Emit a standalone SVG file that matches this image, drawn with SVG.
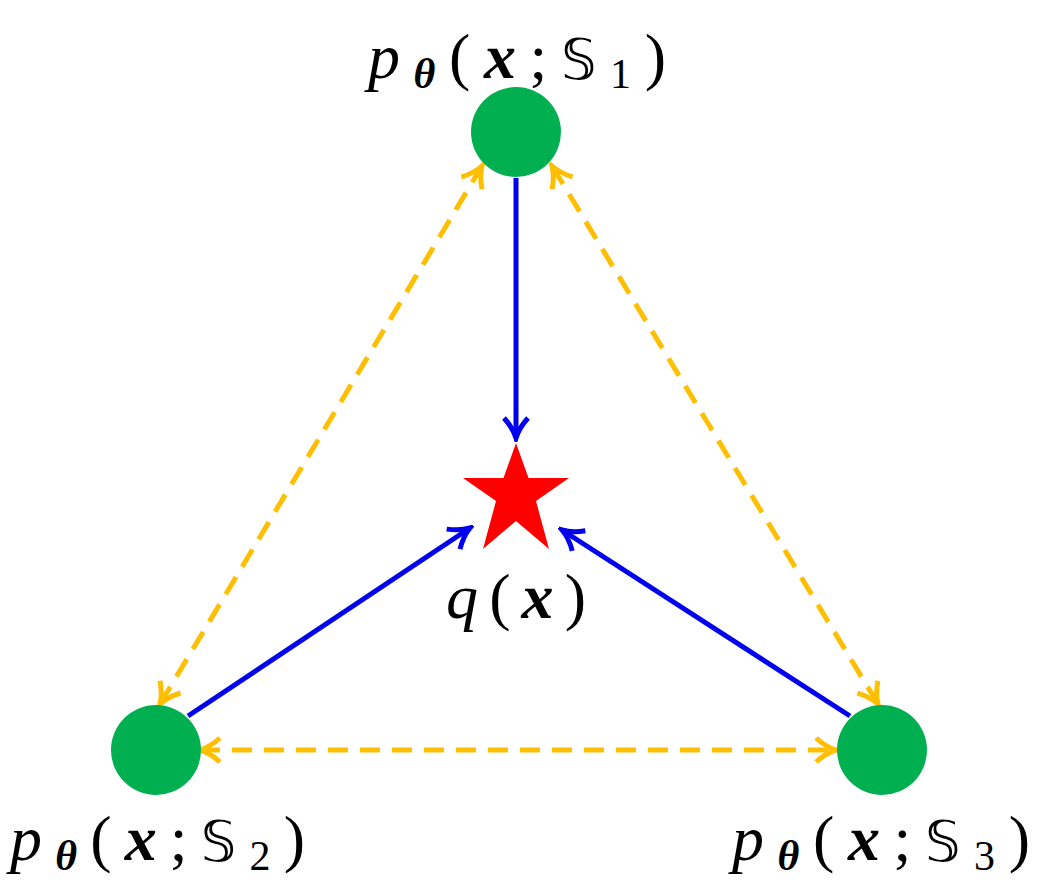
<svg xmlns="http://www.w3.org/2000/svg" width="1040" height="889" viewBox="0 0 1040 889">
<style>
.t{font-family:"Liberation Serif","DejaVu Serif",serif;font-size:64px;fill:#000}
.i{font-style:italic}
.b{font-weight:bold;font-style:italic}
.s{font-size:42px}
.ds{font-family:"DejaVu Sans","DejaVu Serif",serif;font-size:56px}
.blue{stroke:#0000ee;stroke-width:5;fill:none}
.yel{stroke:#ffbf00;stroke-width:5;fill:none;stroke-dasharray:20 12}
</style>
<defs>
<marker id="ab" viewBox="-24 -14 28 28" markerWidth="28" markerHeight="28" refX="0" refY="0" orient="auto-start-reverse" markerUnits="userSpaceOnUse">
<path d="M-20,-12 Q-10,-3 0,0 Q-10,3 -20,12" stroke="#0000ee" stroke-width="5" fill="none"/>
</marker>
<marker id="ay" viewBox="-24 -14 28 28" markerWidth="28" markerHeight="28" refX="0" refY="0" orient="auto-start-reverse" markerUnits="userSpaceOnUse">
<path d="M-20,-12 Q-10,-3 0,0 Q-10,3 -20,12" stroke="#ffbf00" stroke-width="5" fill="none"/>
</marker>
</defs>
<g id="connectors">
<line class="blue" x1="516" y1="178" x2="516" y2="438" marker-end="url(#ab)"/>
<line class="blue" x1="188" y1="716" x2="470" y2="528" marker-end="url(#ab)"/>
<line class="blue" x1="850" y1="716" x2="562" y2="530" marker-end="url(#ab)"/>
<line class="yel" x1="160" y1="704" x2="482" y2="166" marker-start="url(#ay)" marker-end="url(#ay)"/>
<line class="yel" x1="878" y1="704" x2="552" y2="166" marker-start="url(#ay)" marker-end="url(#ay)"/>
<line class="yel" x1="200" y1="750" x2="836" y2="750" marker-start="url(#ay)" marker-end="url(#ay)"/>
</g>
<g id="n1">
<circle cx="516" cy="132" r="45" fill="#00b050"/>
<text class="t" x="368" y="78" textLength="298" lengthAdjust="spacing"><tspan class="i">p</tspan><tspan class="b s" dy="10">θ</tspan><tspan dy="-10">(</tspan><tspan class="b">x</tspan>;<tspan class="ds">𝕊</tspan><tspan class="s" dy="10">1</tspan><tspan dy="-10">)</tspan></text>
</g>
<g id="n2">
<circle cx="156" cy="750" r="45" fill="#00b050"/>
<text class="t" x="10" y="860" textLength="295" lengthAdjust="spacing"><tspan class="i">p</tspan><tspan class="b s" dy="10">θ</tspan><tspan dy="-10">(</tspan><tspan class="b">x</tspan>;<tspan class="ds">𝕊</tspan><tspan class="s" dy="10">2</tspan><tspan dy="-10">)</tspan></text>
</g>
<g id="n3">
<circle cx="882" cy="750" r="45" fill="#00b050"/>
<text class="t" x="732" y="860" textLength="298" lengthAdjust="spacing"><tspan class="i">p</tspan><tspan class="b s" dy="10">θ</tspan><tspan dy="-10">(</tspan><tspan class="b">x</tspan>;<tspan class="ds">𝕊</tspan><tspan class="s" dy="10">3</tspan><tspan dy="-10">)</tspan></text>
</g>
<g id="q">
<polygon fill="#ff0000" points="516,443 528.5,478 569,478 536,501 549,549 516,521 483,549 496,501 463,478 503.5,478"/>
<text class="t" x="446" y="618" textLength="140" lengthAdjust="spacing"><tspan class="i">q</tspan>(<tspan class="b">x</tspan>)</text>
</g>
</svg>
